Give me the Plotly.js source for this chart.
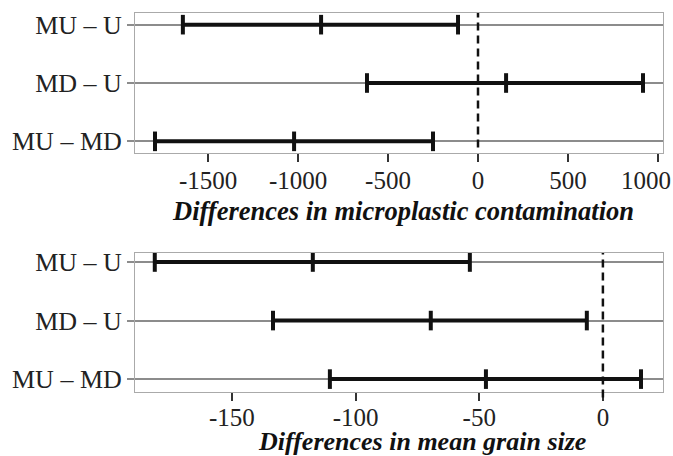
<!DOCTYPE html>
<html>
<head>
<meta charset="utf-8">
<script src="https://cdn.plot.ly/plotly-3.0.1.min.js"></script>
<style>html,body{margin:0;padding:0;background:#fff;}#chart{width:673px;height:456px;}</style>
</head>
<body>
<div id="chart"></div>
<script>
// Categories (top to bottom as shown)
const comparisons = ["MU – U", "MD – U", "MU – MD"];
const categoryOrder = ["MU – MD", "MD – U", "MU – U"]; // bottom-to-top

// Panel 1: differences in microplastic contamination
const mpLower    = [-1640, -617, -1795];
const mpEstimate = [-872, 156, -1022];
const mpUpper    = [-111, 917, -250];

// Panel 2: differences in mean grain size
const gsLower    = [-181.2, -133.4, -110.4];
const gsEstimate = [-117.3, -69.6, -47.3];
const gsUpper    = [-53.8, -6.5, 15.4];

const mpTicks = [-1500, -1000, -500, 0, 500, 1000];
const mpTickText = ["-1500", "-1000", "-500", "0", "500", "1000"];
const gsTicks = [-150, -100, -50, 0];
const gsTickText = ["-150", "-100", "-50", "0"];

const title1 = "Differences in microplastic contamination";
const title2 = "Differences in mean grain size";

const serif = "Liberation Serif, Times New Roman, serif";

function intervalTraces(lo, est, hi, xa, ya) {
  return comparisons.map((c, i) => ({
    type: "scatter",
    mode: "lines+markers",
    x: [lo[i], est[i], hi[i]],
    y: [c, c, c],
    xaxis: xa, yaxis: ya,
    line: {color: "#111", width: 4},
    marker: {symbol: "line-ns", size: 14, color: "#111", line: {color: "#111", width: 4}},
    hoverinfo: "skip",
    showlegend: false
  }));
}

const mpRange = [-1906, 1028];
const nLast = mpTicks.length - 1;

const data = [
  ...intervalTraces(mpLower, mpEstimate, mpUpper, "x", "y"),
  ...intervalTraces(gsLower, gsEstimate, gsUpper, "x2", "y2"),
  // invisible helper so the overlay axis carrying the last top label is drawn
  {type: "scatter", mode: "markers", x: [mpTicks[nLast]], y: [categoryOrder[1]], xaxis: "x3", yaxis: "y",
   marker: {opacity: 0, size: 1}, hoverinfo: "skip", showlegend: false}
];

const xCommon = {
  showgrid: false, zeroline: false,
  showline: true, mirror: true, linecolor: "#aaaaaa", linewidth: 1,
  ticks: "outside", ticklen: 8, tickwidth: 2, tickcolor: "#333",
  tickfont: {family: serif, size: 25, color: "#222"},
  ticklabelstandoff: -3,
  tickmode: "array"
};
const yCommon = {
  type: "category", categoryorder: "array", categoryarray: categoryOrder,
  showgrid: true, gridcolor: "#8c8c8c", gridwidth: 2,
  zeroline: false,
  showline: true, mirror: true, linecolor: "#aaaaaa", linewidth: 1,
  ticks: "outside", ticklen: 7, tickwidth: 2, tickcolor: "#8c8c8c",
  tickfont: {family: serif, size: 26, color: "#222"}
};

// all labels but the last on the main axis; the last one sits left of its tick in the reference
const mainText = mpTickText.map((t, i) => i === nLast ? "" : t);

const layout = {
  width: 673, height: 456,
  margin: {l: 135, r: 10, t: 13, b: 64},
  paper_bgcolor: "#fff", plot_bgcolor: "#fff",
  xaxis: Object.assign({}, xCommon, {anchor: "y", domain: [0, 1], range: mpRange, tickvals: mpTicks, ticktext: mainText}),
  xaxis3: Object.assign({}, xCommon, {anchor: "y", overlaying: "x", side: "bottom", domain: [0, 1], range: mpRange,
    tickvals: [mpTicks[nLast]], ticktext: [mpTickText[nLast]], ticklabelshift: -12, ticklabeloverflow: "allow",
    showline: false, mirror: false, ticks: "outside", tickcolor: "rgba(0,0,0,0)"}),
  yaxis: Object.assign({}, yCommon, {anchor: "x", domain: [0.6306, 1], range: [-0.2, 2.2]}),
  xaxis2: Object.assign({}, xCommon, {anchor: "y2", domain: [0, 1], range: [-189.2, 24.3], tickvals: gsTicks, ticktext: gsTickText, ticklabelstandoff: -5}),
  yaxis2: Object.assign({}, yCommon, {anchor: "x2", domain: [0, 0.3668], range: [-0.22, 2.154]}),
  shapes: [
    {type: "line", xref: "x", yref: "y domain", x0: 0, x1: 0, y0: 0.04, y1: 1,
     line: {color: "#111", width: 2.5, dash: "8px,5px"}},
    {type: "line", xref: "x2", yref: "y2 domain", x0: 0, x1: 0, y0: -0.04, y1: 1,
     line: {color: "#111", width: 2.5, dash: "8px,5px"}}
  ],
  annotations: [
    {text: "<b><i>" + title1 + "</i></b>", xref: "paper", yref: "paper", x: 0.5076, y: 0.478,
     xanchor: "center", yanchor: "middle", showarrow: false,
     font: {family: serif, size: 26.5, color: "#111"}},
    {text: "<b><i>" + title2 + "</i></b>", xref: "paper", yref: "paper", x: 0.5445, y: -0.131,
     xanchor: "center", yanchor: "middle", showarrow: false,
     font: {family: serif, size: 26, color: "#111"}}
  ]
};

Plotly.newPlot("chart", data, layout, {staticPlot: true, displayModeBar: false});
</script>
</body>
</html>
